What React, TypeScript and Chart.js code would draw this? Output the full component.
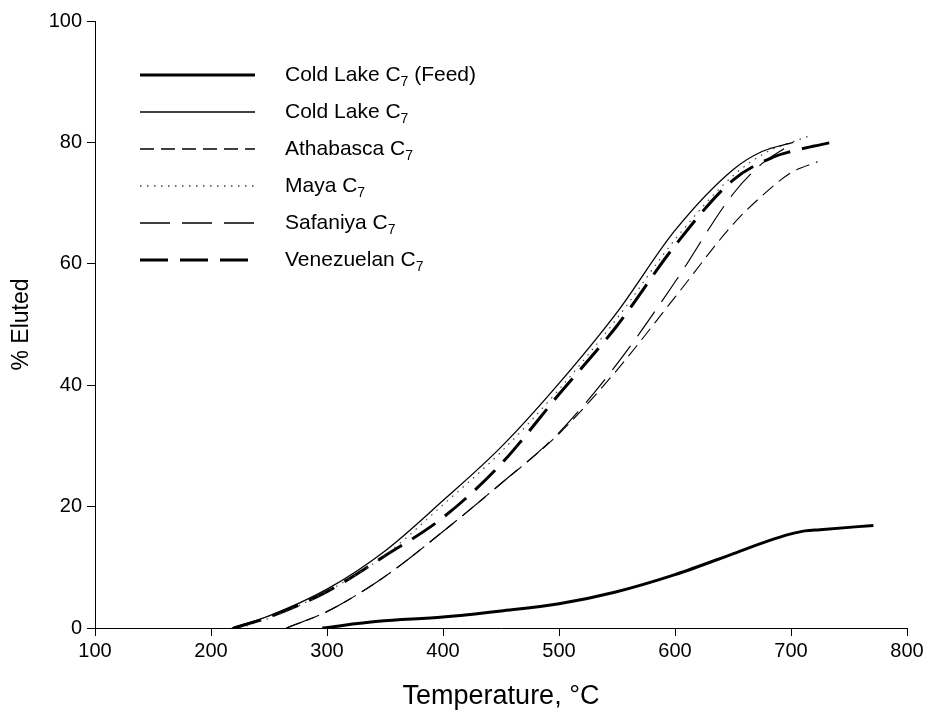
import React, { useEffect, useRef } from "react";
import { Chart, registerables } from "chart.js";

Chart.register(...registerables);

// Temperature (°C) and % eluted for each series
const feedT = [296, 344, 400, 450, 500, 548, 600, 651, 681, 700, 712, 725, 771];
const feedV = [0, 1.1, 1.8, 2.8, 4.0, 5.9, 8.8, 12.3, 14.4, 15.5, 16.0, 16.2, 16.9];

const coldT = [218, 250, 300, 350, 400, 450, 500, 550, 600, 650, 675, 702];
const coldV = [0, 2.0, 6.4, 12.7, 21.0, 29.8, 40.3, 52.0, 65.5, 75.5, 78.5, 80.0];

const athaT = [265, 300, 350, 400, 450, 500, 550, 600, 650, 675, 700, 723];
const athaV = [0, 2.7, 8.5, 15.9, 23.8, 32.0, 42.5, 54.5, 66.5, 71.2, 75.0, 76.8];

const mayaT = [225, 250, 300, 350, 400, 450, 500, 550, 600, 650, 680, 700, 715];
const mayaV = [0, 1.6, 6.0, 12.0, 20.3, 29.0, 39.3, 51.0, 64.0, 74.5, 78.5, 80.0, 81.0];

const safT = [265, 300, 350, 400, 450, 500, 550, 600, 650, 675, 702];
const safV = [0, 2.7, 8.5, 15.9, 23.8, 32.2, 43.5, 57.0, 71.5, 76.5, 79.9];

const venT = [220, 250, 300, 350, 400, 450, 500, 550, 600, 650, 685, 700, 720, 735];
const venV = [0, 1.8, 6.0, 11.9, 18.2, 27.0, 38.5, 49.8, 63.0, 73.8, 77.6, 78.5, 79.4, 80.0];

const xTicks = [100, 200, 300, 400, 500, 600, 700, 800];
const yTicks = [0, 20, 40, 60, 80, 100];

const legendNames = [
  ["Cold Lake C", "7", " (Feed)"],
  ["Cold Lake C", "7", ""],
  ["Athabasca C", "7", ""],
  ["Maya C", "7", ""],
  ["Safaniya C", "7", ""],
  ["Venezuelan C", "7", ""],
];

const FONT = "Arial, 'Liberation Sans', sans-serif";

const toXY = (t: number[], v: number[]) => t.map((x, i) => ({ x, y: v[i] }));

const legendPlugin = {
  id: "customLegend",
  afterDraw(chart: any) {
    const ctx = chart.ctx;
    const x0 = 140;
    const x1 = 255;
    const tx = 285;
    const y0 = 75;
    const dy = 37;
    ctx.save();
    chart.data.datasets.forEach((ds: any, i: number) => {
      const y = y0 + i * dy;
      ctx.beginPath();
      ctx.setLineDash(ds.borderDash || []);
      ctx.lineWidth = Math.max(ds.borderWidth, 1.4);
      ctx.strokeStyle = ds.borderColor;
      ctx.lineCap = "butt";
      ctx.moveTo(x0, y);
      ctx.lineTo(x1, y);
      ctx.stroke();
      ctx.setLineDash([]);
      const [a, s, b] = legendNames[i];
      ctx.fillStyle = "#000";
      ctx.textBaseline = "middle";
      ctx.textAlign = "left";
      ctx.font = `21px ${FONT}`;
      ctx.fillText(a, tx, y);
      let w = ctx.measureText(a).width;
      ctx.font = `14px ${FONT}`;
      ctx.fillText(s, tx + w, y + 7);
      w += ctx.measureText(s).width;
      ctx.font = `21px ${FONT}`;
      if (b) ctx.fillText(b, tx + w, y);
    });
    ctx.restore();
  },
};

export default function App() {
  const ref = useRef<HTMLCanvasElement | null>(null);
  useEffect(() => {
    if (!ref.current) return;
    const mk = (t: number[], v: number[], width: number, dash: number[], color = "#000") => ({
      data: toXY(t, v),
      borderColor: color,
      borderWidth: width,
      borderDash: dash,
      pointRadius: 0,
      fill: false,
      cubicInterpolationMode: "monotone" as const,
    });
    const chart = new Chart(ref.current, {
      type: "line",
      data: {
        datasets: [
          { label: "Cold Lake C7 (Feed)", ...mk(feedT, feedV, 3, []) },
          { label: "Cold Lake C7", ...mk(coldT, coldV, 1.3, []) },
          { label: "Athabasca C7", ...mk(athaT, athaV, 1.1, [14, 7]) },
          { label: "Maya C7", ...mk(mayaT, mayaV, 1.2, [1.5, 5.5], "#444") },
          { label: "Safaniya C7", ...mk(safT, safV, 1.2, [30, 12]) },
          { label: "Venezuelan C7", ...mk(venT, venV, 3, [28, 12]) },
        ],
      },
      options: {
        animation: false,
        responsive: false,
        devicePixelRatio: 1,
        layout: { padding: { top: 21, right: 23, left: 0, bottom: 0 } },
        plugins: { legend: { display: false }, tooltip: { enabled: false } },
        scales: {
          x: {
            type: "linear",
            min: 100,
            max: 800,
            afterBuildTicks: (s: any) => {
              s.ticks = xTicks.map((value) => ({ value }));
            },
            afterFit: (s: any) => {
              s.height = 85;
            },
            border: { display: true, color: "#000", width: 1 },
            grid: { drawOnChartArea: false, drawTicks: true, tickLength: 8, color: "#000", tickColor: "#000" },
            ticks: { color: "#000", font: { size: 20, family: FONT }, padding: 3, maxRotation: 0 },
            title: {
              display: true,
              text: "Temperature, °C",
              color: "#000",
              font: { size: 27, family: FONT },
              padding: { top: 0, bottom: 0 },
            },
          },
          y: {
            type: "linear",
            min: 0,
            max: 100,
            afterBuildTicks: (s: any) => {
              s.ticks = yTicks.map((value) => ({ value }));
            },
            afterFit: (s: any) => {
              s.width = 95;
            },
            border: { display: true, color: "#000", width: 1 },
            grid: { drawOnChartArea: false, drawTicks: true, tickLength: 8, color: "#000", tickColor: "#000" },
            ticks: { color: "#000", font: { size: 20, family: FONT }, padding: 5 },
            title: {
              display: true,
              text: "% Eluted",
              color: "#000",
              font: { size: 23, family: FONT },
              padding: { top: 8, bottom: 0 },
            },
          },
        },
      },
      plugins: [legendPlugin],
    });
    return () => chart.destroy();
  }, []);
  return (
    <div style={{ position: "fixed", left: 0, top: 0, width: 930, height: 713, background: "#fff" }}>
      <canvas ref={ref} width={930} height={713} />
    </div>
  );
}
